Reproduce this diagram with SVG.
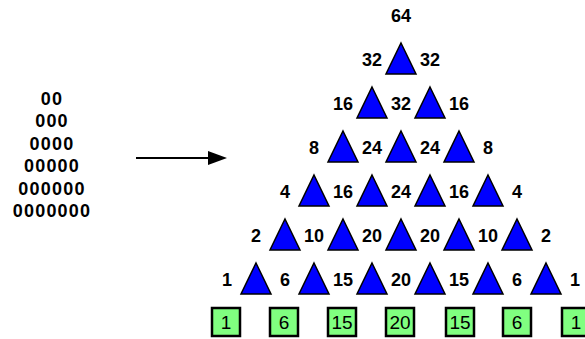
<svg xmlns="http://www.w3.org/2000/svg" xmlns:xlink="http://www.w3.org/1999/xlink" width="585" height="339" viewBox="0 0 585 339">
<style>
.t{font-family:"Liberation Sans",Arial,sans-serif;font-size:18px;font-weight:bold;fill:#000;text-anchor:middle}
.z{font-family:"Liberation Sans",Arial,sans-serif;font-size:18px;font-weight:bold;fill:#000;text-anchor:middle;letter-spacing:1.2px}
.b{font-family:"Liberation Sans",Arial,sans-serif;font-size:19px;fill:#000;text-anchor:middle}
.box{fill:#80ff80;stroke:#000;stroke-width:2.5}
.tri{fill:#0000ff;stroke:#000;stroke-width:1.5;stroke-linejoin:miter}
</style>
<defs>
<path id="tri" class="tri" d="M0,0 L15,31 L-15,31 Z"/>
</defs>
<rect width="585" height="339" fill="#fff"/>
<g id="left-text">
<text class="z" x="52" y="105">00</text>
<text class="z" x="52" y="127">000</text>
<text class="z" x="52" y="150">0000</text>
<text class="z" x="52" y="172">00000</text>
<text class="z" x="52" y="195">000000</text>
<text class="z" x="52" y="217">0000000</text>
</g>
<g id="connectors">
<line x1="136" y1="158" x2="212" y2="158" stroke="#000" stroke-width="2"/>
<polygon points="208,151 227,158 208,165" fill="#000"/>
</g>
<g id="triangles">
<use xlink:href="#tri" x="401" y="43"/>
<use xlink:href="#tri" x="372" y="87"/><use xlink:href="#tri" x="430" y="87"/>
<use xlink:href="#tri" x="343" y="131"/><use xlink:href="#tri" x="401" y="131"/><use xlink:href="#tri" x="459" y="131"/>
<use xlink:href="#tri" x="314" y="175"/><use xlink:href="#tri" x="372" y="175"/><use xlink:href="#tri" x="430" y="175"/><use xlink:href="#tri" x="488" y="175"/>
<use xlink:href="#tri" x="285" y="219"/><use xlink:href="#tri" x="343" y="219"/><use xlink:href="#tri" x="401" y="219"/><use xlink:href="#tri" x="459" y="219"/><use xlink:href="#tri" x="517" y="219"/>
<use xlink:href="#tri" x="256" y="263"/><use xlink:href="#tri" x="314" y="263"/><use xlink:href="#tri" x="372" y="263"/><use xlink:href="#tri" x="430" y="263"/><use xlink:href="#tri" x="488" y="263"/><use xlink:href="#tri" x="546" y="263"/>
</g>
<g id="labels">
<text class="t" x="401" y="22">64</text>
<text class="t" x="372" y="66">32</text><text class="t" x="430" y="66">32</text>
<text class="t" x="343" y="110">16</text><text class="t" x="401" y="110">32</text><text class="t" x="459" y="110">16</text>
<text class="t" x="314" y="154">8</text><text class="t" x="372" y="154">24</text><text class="t" x="430" y="154">24</text><text class="t" x="488" y="154">8</text>
<text class="t" x="285" y="198">4</text><text class="t" x="343" y="198">16</text><text class="t" x="401" y="198">24</text><text class="t" x="459" y="198">16</text><text class="t" x="517" y="198">4</text>
<text class="t" x="256" y="242">2</text><text class="t" x="314" y="242">10</text><text class="t" x="372" y="242">20</text><text class="t" x="430" y="242">20</text><text class="t" x="488" y="242">10</text><text class="t" x="546" y="242">2</text>
<text class="t" x="227" y="286">1</text><text class="t" x="285" y="286">6</text><text class="t" x="343" y="286">15</text><text class="t" x="401" y="286">20</text><text class="t" x="459" y="286">15</text><text class="t" x="517" y="286">6</text><text class="t" x="575" y="286">1</text>
</g>
<g id="box-1"><rect class="box" x="212" y="308" width="28" height="28"/><text class="b" x="226" y="329">1</text></g>
<g id="box-6a"><rect class="box" x="270" y="308" width="28" height="28"/><text class="b" x="284" y="329">6</text></g>
<g id="box-15a"><rect class="box" x="328" y="308" width="28" height="28"/><text class="b" x="342" y="329">15</text></g>
<g id="box-20"><rect class="box" x="386" y="308" width="28" height="28"/><text class="b" x="400" y="329">20</text></g>
<g id="box-15b"><rect class="box" x="446" y="308" width="28" height="28"/><text class="b" x="460" y="329">15</text></g>
<g id="box-6b"><rect class="box" x="503" y="308" width="28" height="28"/><text class="b" x="517" y="329">6</text></g>
<g id="box-1b"><rect class="box" x="562" y="308" width="28" height="28"/><text class="b" x="576" y="329">1</text></g>
</svg>
